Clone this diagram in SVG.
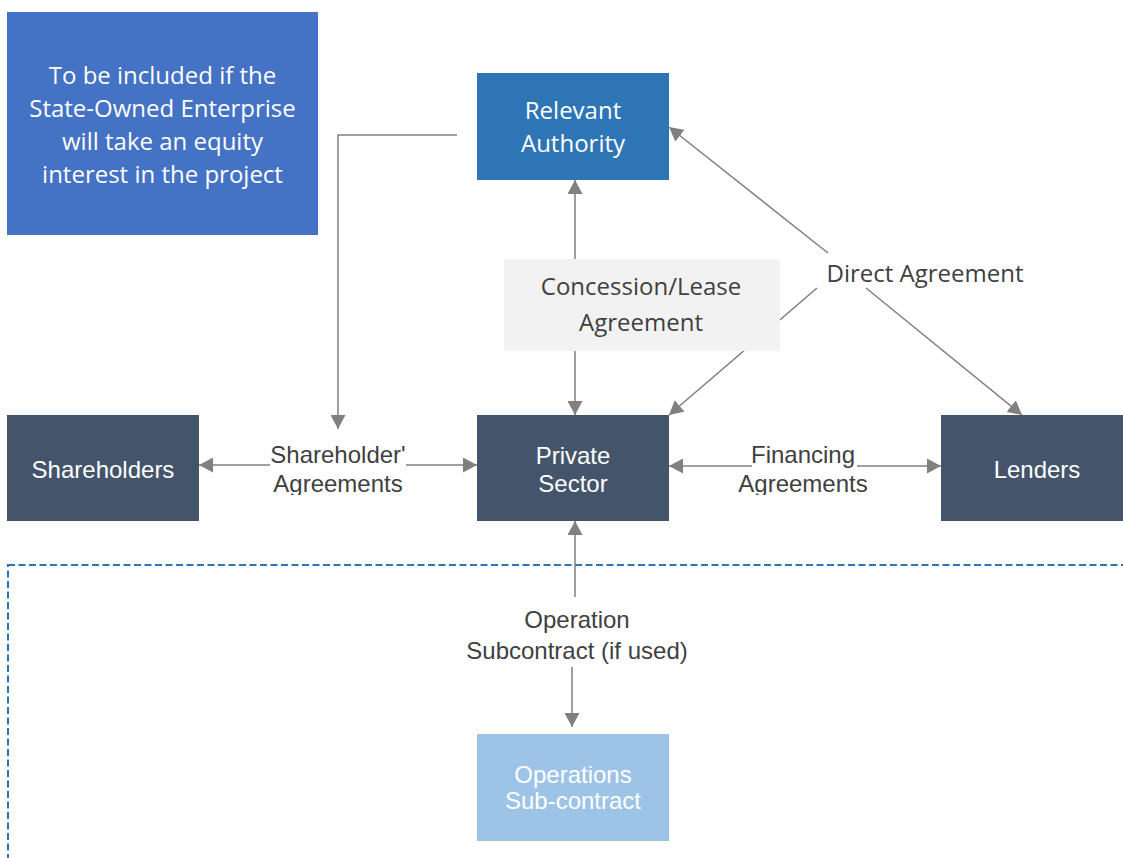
<svg xmlns="http://www.w3.org/2000/svg" width="1123" height="858" viewBox="0 0 1123 858">
<style>
.conn{fill:none;stroke:#808080;stroke-width:1.5;marker-end:url(#ah)}
.os{font-family:"Open Sans","Noto Sans","DejaVu Sans",sans-serif;font-size:24px;text-anchor:middle}
.ar{font-family:"Liberation Sans",Arial,sans-serif;font-size:24px;text-anchor:middle}
.w{fill:#FFFFFF}
.d{fill:#404040}
.dark{fill:#44546A}
</style>
<defs>
<marker id="ah" markerUnits="userSpaceOnUse" markerWidth="15" markerHeight="15" refX="14" refY="7.5" orient="auto">
<path d="M0,0 L14,7.5 L0,15 z" fill="#808080"/>
</marker>
<clipPath id="clipSh"><rect x="262" y="436" width="152" height="59"/></clipPath>
<clipPath id="clipFin"><rect x="730" y="436" width="146" height="59"/></clipPath>
</defs>

<rect id="scope" x="8" y="565" width="1130" height="320" fill="none" stroke="#2E75B6" stroke-width="2" stroke-dasharray="7,3.5"/>

<g id="connectors">
<path class="conn" d="M457,135 H338 V429"/>
<path class="conn" d="M575,259 V180"/>
<path class="conn" d="M575,351 V415"/>
<path class="conn" d="M828,253 L669,127"/>
<path class="conn" d="M817,288 L669,415"/>
<path class="conn" d="M866,288 L1022,415"/>
<path class="conn" d="M270,465 H199"/>
<path class="conn" d="M406,465 H477"/>
<path class="conn" d="M752,466 H669"/>
<path class="conn" d="M857,466 H941"/>
<path class="conn" d="M575,597 V521"/>
<path class="conn" d="M572,667 V727"/>
</g>

<g id="note">
<rect x="7" y="12" width="311" height="223" fill="#4472C4"/>
<text class="os w" x="162.5" y="84">To be included if the</text>
<text class="os w" x="162.5" y="117">State-Owned Enterprise</text>
<text class="os w" x="162.5" y="150">will take an equity</text>
<text class="os w" x="162.5" y="183">interest in the project</text>
</g>

<g id="relevant-authority">
<rect x="477" y="73" width="192" height="107" fill="#2E75B6"/>
<text class="os w" x="573" y="119">Relevant</text>
<text class="os w" x="573" y="152">Authority</text>
</g>

<g id="concession-label">
<rect x="504" y="259" width="276" height="92" fill="#F2F2F2"/>
<text class="os d" x="641" y="295">Concession/Lease</text>
<text class="os d" x="641" y="331">Agreement</text>
</g>

<g id="direct-label">
<text class="os d" x="925" y="282">Direct Agreement</text>
</g>

<g id="shareholders">
<rect class="dark" x="7" y="415" width="192" height="106"/>
<text class="ar w" x="103" y="478">Shareholders</text>
</g>

<g id="private-sector">
<rect class="dark" x="477" y="415" width="192" height="106"/>
<text class="ar w" x="573" y="464">Private</text>
<text class="ar w" x="573" y="492">Sector</text>
</g>

<g id="lenders">
<rect class="dark" x="941" y="415" width="182" height="106"/>
<text class="ar w" x="1037" y="478">Lenders</text>
</g>

<g id="shareholder-label" clip-path="url(#clipSh)">
<text class="ar d" x="338" y="463">Shareholder'</text>
<text class="ar d" x="338" y="492">Agreements</text>
</g>

<g id="financing-label" clip-path="url(#clipFin)">
<text class="ar d" x="803" y="463">Financing</text>
<text class="ar d" x="803" y="492">Agreements</text>
</g>

<g id="operation-label">
<text class="ar d" x="577" y="628">Operation</text>
<text class="ar d" x="577" y="659">Subcontract (if used)</text>
</g>

<g id="operations-subcontract">
<rect x="477" y="734" width="192" height="107" fill="#9DC3E6"/>
<text class="ar w" x="573" y="783">Operations</text>
<text class="ar w" x="573" y="809">Sub-contract</text>
</g>
</svg>
